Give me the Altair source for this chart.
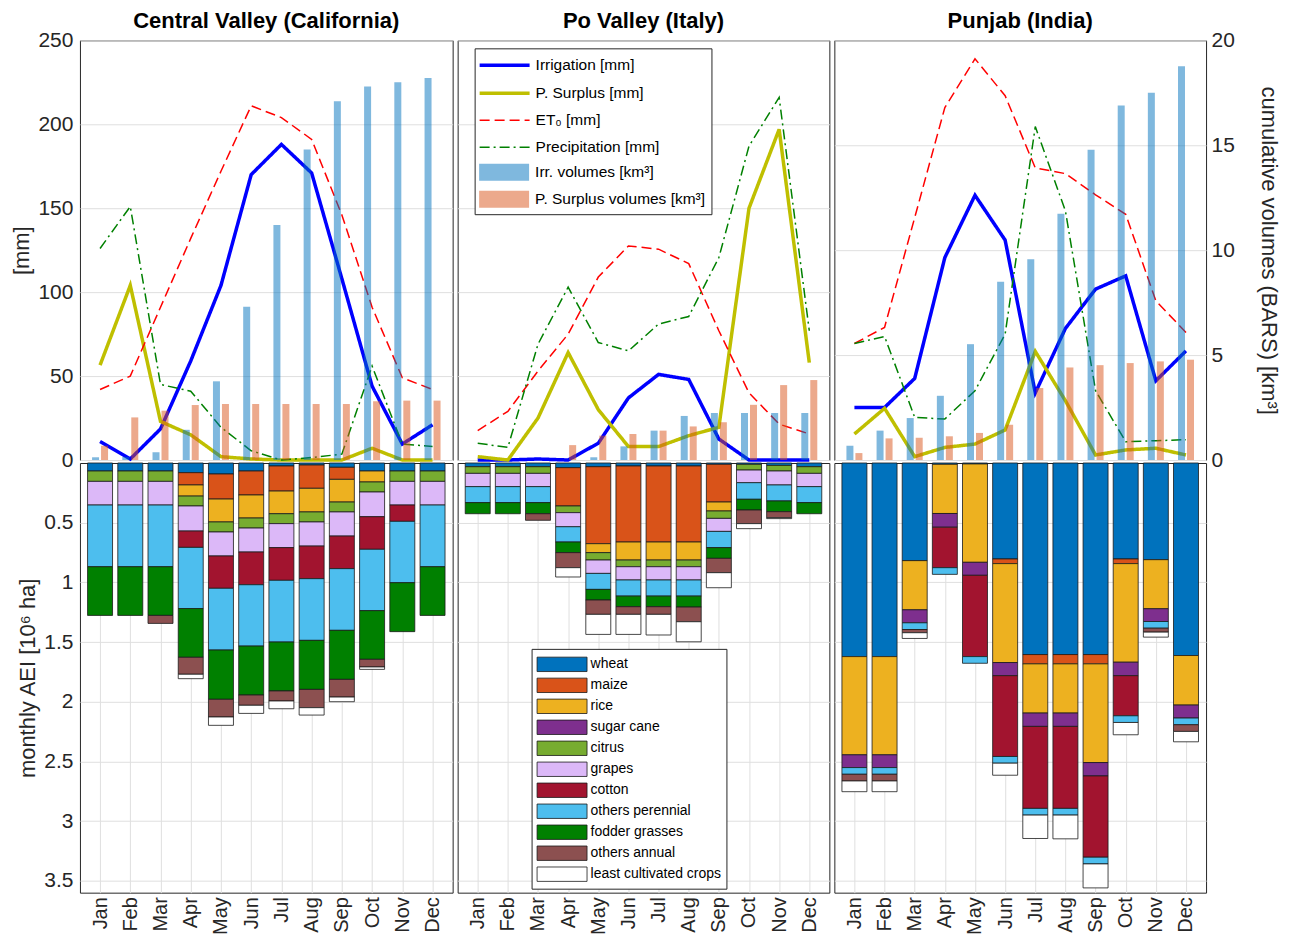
import json
import altair as alt
import pandas as pd

months = ["Jan", "Feb", "Mar", "Apr", "May", "Jun", "Jul", "Aug", "Sep", "Oct", "Nov", "Dec"]
month_num = list(range(1, 13))
region_keys = ["cv", "po", "pj"]
region_titles = ["Central Valley (California)", "Po Valley (Italy)", "Punjab (India)"]

# ---- top row: monthly water balance [mm] ----
irrigation_mm = {
    "cv": [11, 0.6, 18.5, 59, 104, 170, 188, 171, 108, 44, 9.5, 21],
    "po": [0, 0, 0.6, 0, 10, 37, 51, 48, 12.5, 0, 0, 0],
    "pj": [31.3, 31.3, 48.6, 120.6, 157.7, 131, 40, 78.4, 101.8, 109.7, 47.2, 65],
}
p_surplus_mm = {
    "cv": [56.5, 104, 23, 15, 2, 0.6, 0, 0, 0, 7, 0, 0],
    "po": [2, 0, 25, 64, 30, 8, 8, 14.5, 19.5, 150, 197, 58],
    "pj": [15.5, 30.8, 2, 7.5, 9.5, 17.9, 64.7, 35.3, 3, 6, 7, 3],
}
et0_mm = {
    "cv": [42, 50, 91, 132, 172, 211, 204, 191, 146, 91, 49, 42],
    "po": [17.5, 29, 53, 75, 109, 127.5, 125.6, 117, 77, 40, 21.4, 15.5],
    "pj": [69.4, 79, 144.4, 210, 239, 217, 174, 170.6, 158, 146.4, 94.8, 76],
}
precip_mm = {
    "cv": [126, 151, 45, 41, 19.5, 5.5, 0, 1.5, 3.5, 56, 9.5, 8],
    "po": [10, 7.5, 69, 103, 70, 65, 81, 85.5, 120.6, 187, 216, 77],
    "pj": [69.4, 73.6, 25.4, 24.4, 41.3, 75, 198.6, 148.4, 41.3, 10.9, 11.5, 12.1],
}
# cumulative volumes [km3] (bars)
irr_vol_km3 = {
    "cv": [0.13, 0.15, 0.37, 1.44, 3.75, 7.3, 11.2, 14.8, 17.1, 17.8, 18.0, 18.2],
    "po": [0, 0, 0, 0, 0.13, 0.65, 1.4, 2.1, 2.24, 2.24, 2.24, 2.24],
    "pj": [0.68, 1.4, 2.0, 3.06, 5.52, 8.5, 9.57, 11.73, 14.78, 16.9, 17.5, 18.76],
}
ps_vol_km3 = {
    "cv": [0.68, 2.03, 2.35, 2.62, 2.67, 2.67, 2.67, 2.67, 2.67, 2.8, 2.83, 2.83],
    "po": [0, 0, 0, 0.71, 1.16, 1.24, 1.4, 1.6, 1.8, 2.63, 3.57, 3.81],
    "pj": [0.33, 1.03, 1.06, 1.13, 1.29, 1.68, 3.43, 4.41, 4.52, 4.62, 4.7, 4.78],
}

line_labels = ["Irrigation [mm]", "P. Surplus [mm]", "ET\u2080 [mm]", "Precipitation [mm]"]
line_colors = ["#0000FF", "#BFBF00", "#FF0000", "#008000"]
line_dashes = [[1, 0], [1, 0], [10, 5], [10, 4, 2, 4]]
line_widths = [3.5, 3.5, 1.5, 1.5]
bar_labels = ["Irr. volumes [km\u00b3]", "P. Surplus volumes [km\u00b3]"]
bar_colors = ["#0072BD", "#D95319"]

# ---- bottom row: monthly AEI [10^6 ha] by crop ----
crops = ["wheat", "maize", "rice", "sugar cane", "citrus", "grapes", "cotton",
         "others perennial", "fodder grasses", "others annual", "least cultivated crops"]
crop_colors = ["#0072BD", "#D95319", "#EDB120", "#7E2F8E", "#77AC30", "#DCB8F8", "#A2142F",
               "#4DBEEE", "#008000", "#8C5050", "#FFFFFF"]

z12 = [0] * 12
aei_cv = {
    "wheat": [.067, .067, .067, .081, .092, .067, .025, .017, .036, .067, .067, .067],
    "maize": [0, 0, 0, .103, .21, .201, .21, .195, .101, 0, 0, 0],
    "rice": [0, 0, 0, .093, .192, .193, .19, .198, .19, .092, 0, 0],
    "sugar cane": z12,
    "citrus": [.087, .087, .087, .083, .084, .084, .083, .084, .083, .084, .087, .087],
    "grapes": [.198, .198, .198, .21, .201, .201, .201, .202, .202, .207, .198, .198],
    "cotton": [0, 0, 0, .137, .271, .274, .274, .273, .273, .273, .137, 0],
    "others perennial": [.517, .517, .517, .513, .517, .514, .517, .517, .517, .514, .514, .517],
    "fodder grasses": [.408, .408, .408, .408, .413, .41, .41, .411, .411, .408, .41, .408],
    "others annual": [0, 0, .067, .142, .148, .086, .084, .153, .148, .064, 0, 0],
    "least cultivated crops": [0, 0, 0, .037, .07, .068, .065, .062, .039, .02, 0, 0],
}
aei_po = {
    "wheat": [.031, .031, .031, .039, .031, .025, .025, .025, .011, .011, .02, .031],
    "maize": [0, 0, 0, .321, .645, .637, .637, .637, .316, 0, 0, 0],
    "rice": [0, 0, 0, 0, .075, .151, .151, .151, .075, 0, 0, 0],
    "sugar cane": z12,
    "citrus": [.056, .056, .056, .056, .062, .056, .056, .056, .062, .048, .047, .056],
    "grapes": [.111, .111, .111, .118, .112, .111, .111, .111, .109, .106, .117, .111],
    "cotton": z12,
    "others perennial": [.134, .134, .134, .128, .134, .135, .135, .135, .136, .139, .134, .134],
    "fodder grasses": [.093, .093, .093, .089, .089, .089, .089, .092, .09, .09, .09, .093],
    "others annual": [0, 0, .055, .126, .12, .064, .064, .123, .12, .114, .05, 0],
    "least cultivated crops": [0, 0, 0, .078, .168, .168, .173, .168, .126, .042, .008, 0],
}
aei_pj = {
    "wheat": [1.622, 1.622, .818, .011, .008, .804, 1.605, 1.605, 1.605, .804, .81, 1.613],
    "maize": [0, 0, 0, 0, 0, .039, .078, .078, .078, .039, 0, 0],
    "rice": [.823, .823, .412, .412, .824, .829, .412, .412, .827, .826, .411, .415],
    "sugar cane": [.107, .107, .109, .115, .109, .11, .112, .112, .112, .113, .107, .109],
    "citrus": z12,
    "grapes": z12,
    "cotton": [0, 0, 0, .339, .681, .677, .687, .687, .681, .336, 0, 0],
    "others perennial": [.056] * 12,
    "fodder grasses": z12,
    "others annual": [.056, .056, .027, 0, 0, 0, 0, 0, 0, 0, .033, .056],
    "least cultivated crops": [.09, .09, .048, 0, 0, .101, .196, .199, .201, .103, .042, .087],
}
aei = {"cv": aei_cv, "po": aei_po, "pj": aei_pj}

mm_ticks = [0, 50, 100, 150, 200, 250]
km3_ticks = [0, 5, 10, 15, 20]
aei_ticks = [0.5, 1, 1.5, 2, 2.5, 3, 3.5]

FONT = "Liberation Sans"
month_expr = json.dumps(months) + "[datum.value - 1]"
x_scale = alt.Scale(domain=[0.5, 12.5], nice=False, zero=False)

PW = [373, 372, 372]
TOP_H = 420
BOT_H = 430


def top_panel(i):
    key = region_keys[i]
    rows = []
    for lab, src in zip(line_labels, [irrigation_mm, p_surplus_mm, et0_mm, precip_mm]):
        for m, v in zip(month_num, src[key]):
            rows.append({"m": m, "v": v, "series": lab})
    lines_df = pd.DataFrame(rows)
    irr_df = pd.DataFrame({"m": month_num, "vol": irr_vol_km3[key], "series": bar_labels[0]})
    ps_df = pd.DataFrame({"m": month_num, "vol": ps_vol_km3[key], "series": bar_labels[1]})

    if i == 1:
        line_leg = alt.Legend(orient="none", legendX=23, legendY=13, title=None,
                              symbolType="M-2.5,0H2.5", symbolSize=400,
                              labelFontSize=15.5, labelFont=FONT, labelColor="black",
                              rowPadding=7, padding=0, symbolOffset=12, labelOffset=19,
                              labelLimit=300, zindex=2)
        bar_leg = alt.Legend(orient="none", legendX=17, legendY=8, title="\u00a0",
                             titleFontSize=15, titlePadding=93,
                             symbolType="M-2.5,-0.85H2.5V0.85H-2.5Z", symbolSize=400,
                             symbolOpacity=0.5, symbolStrokeWidth=0,
                             labelFontSize=15.5, labelFont=FONT, labelColor="black",
                             rowPadding=8, padding=6, symbolOffset=13.5, labelOffset=21,
                             strokeColor="#262626", fillColor="white", labelLimit=300, zindex=1)
    else:
        line_leg = None
        bar_leg = None

    x_enc = alt.X("m:Q", scale=x_scale,
                  axis=alt.Axis(values=month_num, labels=False, title=None, grid=True))
    if i == 0:
        y_axis = alt.Axis(values=mm_ticks, title="[mm]", grid=True, labelPadding=7, labelFontSize=21)
    elif i == 1:
        # invisible labels keep the title height identical to the neighbours
        y_axis = alt.Axis(values=mm_ticks, title=None, labels=True, labelColor="transparent",
                          grid=True, labelFontSize=21)
    else:
        y_axis = alt.Axis(values=mm_ticks, title=None, labels=False, grid=False)

    lines = alt.Chart(lines_df).mark_line(strokeJoin="miter").encode(
        x=x_enc,
        y=alt.Y("v:Q", scale=alt.Scale(domain=[0, 250], nice=False), axis=y_axis),
        stroke=alt.Stroke("series:N", scale=alt.Scale(domain=line_labels, range=line_colors), legend=line_leg),
        strokeDash=alt.StrokeDash("series:N", scale=alt.Scale(domain=line_labels, range=line_dashes), legend=line_leg),
        strokeWidth=alt.StrokeWidth("series:N", scale=alt.Scale(type="ordinal", domain=line_labels, range=line_widths), legend=line_leg),
    )

    if i == 2:
        vol_axis = alt.Axis(orient="right", values=km3_ticks, title="cumulative volumes (BARS) [km\u00b3]",
                            grid=True, labelPadding=5, titlePadding=22, labelFontSize=21)
    else:
        vol_axis = None
    vol_scale = alt.Scale(domain=[0, 20], nice=False)
    fill_scale = alt.Scale(domain=bar_labels, range=bar_colors)
    bar_irr = alt.Chart(irr_df).mark_bar(width=7, xOffset=-4.5, opacity=0.5).encode(
        x=alt.X("m:Q", scale=x_scale, axis=None),
        y=alt.Y("vol:Q", scale=vol_scale, axis=vol_axis),
        fill=alt.Fill("series:N", scale=fill_scale, legend=bar_leg),
    )
    bar_ps = alt.Chart(ps_df).mark_bar(width=7, xOffset=4.5, opacity=0.5).encode(
        x=alt.X("m:Q", scale=x_scale, axis=None),
        y=alt.Y("vol:Q", scale=vol_scale, axis=None),
        fill=alt.Fill("series:N", scale=fill_scale, legend=bar_leg),
    )
    return alt.layer(lines, bar_irr, bar_ps).resolve_scale(y="independent").properties(
        width=PW[i], height=TOP_H,
        title=alt.Title(region_titles[i], fontSize=22, fontWeight="bold", font=FONT, color="black",
                        offset=-4),
    )


def bottom_panel(i):
    key = region_keys[i]
    rows = []
    for ci, crop in enumerate(crops):
        for m, v in zip(month_num, aei[key][crop]):
            rows.append({"m": m, "v": v, "crop": crop, "ci": ci})
    df = pd.DataFrame(rows)
    if i == 1:
        leg = alt.Legend(orient="none", legendX=74, legendY=186, title=None,
                         symbolType="M-2.5,-0.72H2.5V0.72H-2.5Z", symbolSize=400,
                         symbolStrokeColor="#1a1a1a", symbolStrokeWidth=0.8,
                         labelFontSize=14, labelFont=FONT, labelColor="black",
                         rowPadding=1, padding=5, symbolOffset=15, labelOffset=18,
                         strokeColor="#262626", fillColor="white", labelLimit=300)
    else:
        leg = None
    if i == 0:
        y_axis = alt.Axis(values=aei_ticks, format="~g", title="monthly AEI [10\u2076 ha]", grid=True,
                          labelPadding=7, labelFontSize=21)
    else:
        y_axis = alt.Axis(values=aei_ticks, labels=False, title=None, grid=True)
    return alt.Chart(df).transform_filter("datum.v > 0").mark_bar(
        width=25, stroke="#1a1a1a", strokeWidth=0.8
    ).encode(
        x=alt.X("m:Q", scale=x_scale,
                axis=alt.Axis(values=month_num, labelExpr=month_expr, labelAngle=270,
                              title=None, grid=True, labelPadding=4)),
        y=alt.Y("v:Q", stack="zero", scale=alt.Scale(domain=[0, 3.6], reverse=True, nice=False), axis=y_axis),
        fill=alt.Fill("crop:N", scale=alt.Scale(domain=crops, range=crop_colors), legend=leg),
        order=alt.Order("ci:Q", sort="ascending"),
    ).properties(width=PW[i], height=BOT_H)


panels = [top_panel(i) for i in range(3)] + [bottom_panel(i) for i in range(3)]

chart = alt.ConcatChart(
    concat=panels, columns=3, spacing={"row": 3, "column": 5}, bounds="flush"
).resolve_scale(
    x="independent", y="independent", stroke="independent", strokeDash="independent",
    strokeWidth="independent", fill="independent"
).configure(
    font=FONT, padding={"left": 2, "top": 1, "right": 5, "bottom": 0}
).configure_view(
    stroke="#262626", strokeWidth=1
).configure_axis(
    labelFont=FONT, labelFontSize=20, labelColor="#262626",
    titleFont=FONT, titleFontSize=22, titleFontWeight="normal", titleColor="#262626",
    gridColor="#dfdfdf", gridWidth=1, domain=False, ticks=False
)

chart.save("out.html", embed_options={"renderer": "svg", "actions": False})
